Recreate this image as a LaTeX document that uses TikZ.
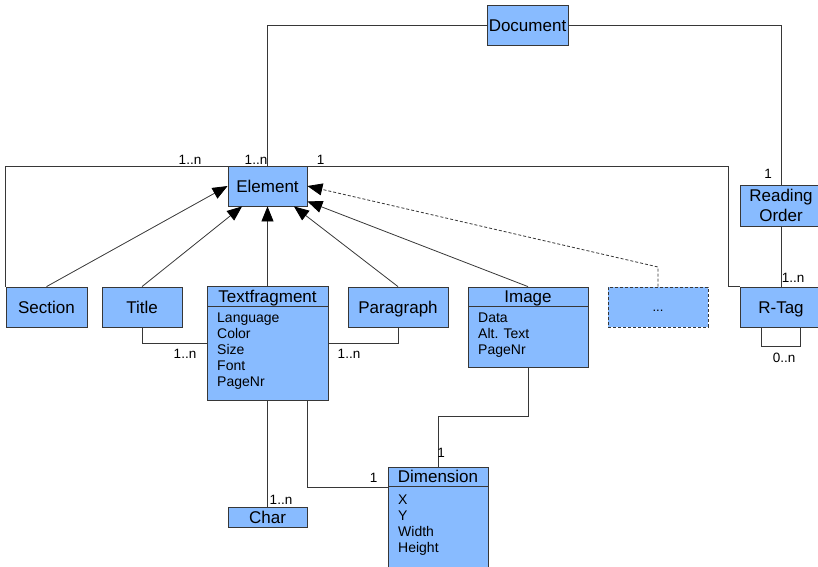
\documentclass[tikz,border=0pt]{standalone}
\usepackage{fontspec}
\setmainfont{Liberation Sans}
\usetikzlibrary{calc,arrows.meta}
\definecolor{ClassBlue}{RGB}{136,187,255}
\definecolor{LineGray}{RGB}{55,55,55}
\tikzset{
  cls/.style={draw=LineGray,fill=ClassBlue,line width=0.8pt,inner sep=0pt,
    font=\fontsize{17}{20}\selectfont,text height=12pt,text depth=0pt},
  hdr/.style={cls,anchor=north,minimum height=20pt},
  attr/.style={anchor=north west,align=left,inner sep=0pt,font=\fontsize{14}{16}\selectfont},
  card/.style={anchor=base,inner sep=0pt,font=\fontsize{13.5}{16}\selectfont},
  assoc/.style={draw=LineGray,line width=0.8pt},
  inherit/.style={assoc,-{Triangle[length=15pt,width=12pt,color=black]}},
}

\begin{document}
\begin{tikzpicture}[x=1pt,y=-1pt]
\useasboundingbox (0,0) rectangle (818,566);
\clip (0,0) rectangle (818,566);
% classes
\node[cls,minimum width=81pt,minimum height=40pt] (doc) at (527.5,25) {Document};
\node[cls,minimum width=79pt,minimum height=40pt] (elem) at (267.5,186) {Element};
\node[cls,minimum width=81pt,minimum height=40pt] (sec) at (46.5,307) {Section};
\node[cls,minimum width=80pt,minimum height=40pt] (tit) at (142,307) {Title};
\node[cls,minimum width=121pt,minimum height=114pt] (tf) at (267.5,343) {};
\node[hdr,minimum width=121pt] (tfh) at (tf.north) {Textfragment};
\node[attr] (tfa) at (217,313) {Language\\Color\\Size\\Font\\PageNr};
\node[cls,minimum width=100pt,minimum height=40pt] (par) at (398,307) {Paragraph};
\node[cls,minimum width=120pt,minimum height=80pt] (img) at (528,327) {};
\node[hdr,minimum width=120pt,minimum height=19.5pt] (imgh) at (img.north) {Image};
\node[attr] (imga) at (478,313) {Data\\Alt. Text\\PageNr};
\node[cls,densely dashed,minimum width=100pt,minimum height=40pt,
  font=\fontsize{13}{15}\selectfont,text height=8pt] (dots) at (658,307) {...};
\node[cls,minimum width=82pt,minimum height=41pt,text height={},text depth={},
  align=center] (ro) at (781,205.5) {Reading\\Order};
\node[cls,minimum width=82pt,minimum height=40pt] (rtag) at (781,307) {R-Tag};
\node[cls,minimum width=79pt,minimum height=20pt] (chr) at (267.5,517) {Char};
\node[cls,minimum width=100pt,minimum height=153pt] (dim) at (438,543.5) {};
\node[hdr,minimum width=100pt,minimum height=19.5pt] (dimh) at (dim.north) {Dimension};
\node[attr] (dima) at (398,495) {X\\Y\\Width\\Height};
\coordinate (elbow) at (728,166);
\coordinate (dbend) at (658,267);
% associations
\draw[assoc] (doc.west) -| (elem.north);
\draw[assoc] (doc.east) -| (ro.north);
\draw[assoc] (sec.north west) |- (elbow) |- (rtag.north west);
\draw[assoc] (tit.south) |- (tf.west);
\draw[assoc] (par.south) |- (tf.east);
\draw[assoc] (tf.south) -- (chr.north);
\draw[assoc] ($(tf.south east)+(-21,0)$) |- (dimh.south west);
\draw[assoc] (img.south) -- ++(0,49) -| (dimh.north);
\draw[assoc] (ro.south) -- (rtag.north);
\draw[assoc] ($(rtag.south)+(-20,0)$) -- ++(0,19) -| ($(rtag.south)+(19,0)$);
% generalisations
\draw[inherit] (sec.north) -- (elem.west);
\draw[inherit] (tit.north) -- (elem);
\draw[inherit] (tfh.north) -- (elem);
\draw[inherit] (par.north) -- (elem);
\draw[inherit] (imgh.north) -- (elem);
\draw[inherit,densely dashed] (dots.north) -- (dbend) -- (elem.east);
% multiplicities
\node[card] (m1) at (190,164) {1..n};
\node[card] (m2) at (256,164) {1..n};
\node[card] (m3) at (320.5,164) {1};
\node[card] (m4) at (768,178) {1};
\node[card] (m5) at (793,282) {1..n};
\node[card] (m6) at (784,362) {0..n};
\node[card] (m7) at (185,358) {1..n};
\node[card] (m8) at (349,358) {1..n};
\node[card] (m9) at (281,504) {1..n};
\node[card] (m10) at (373.5,482) {1};
\node[card] (m11) at (441,457) {1};
\end{tikzpicture}
\end{document}
